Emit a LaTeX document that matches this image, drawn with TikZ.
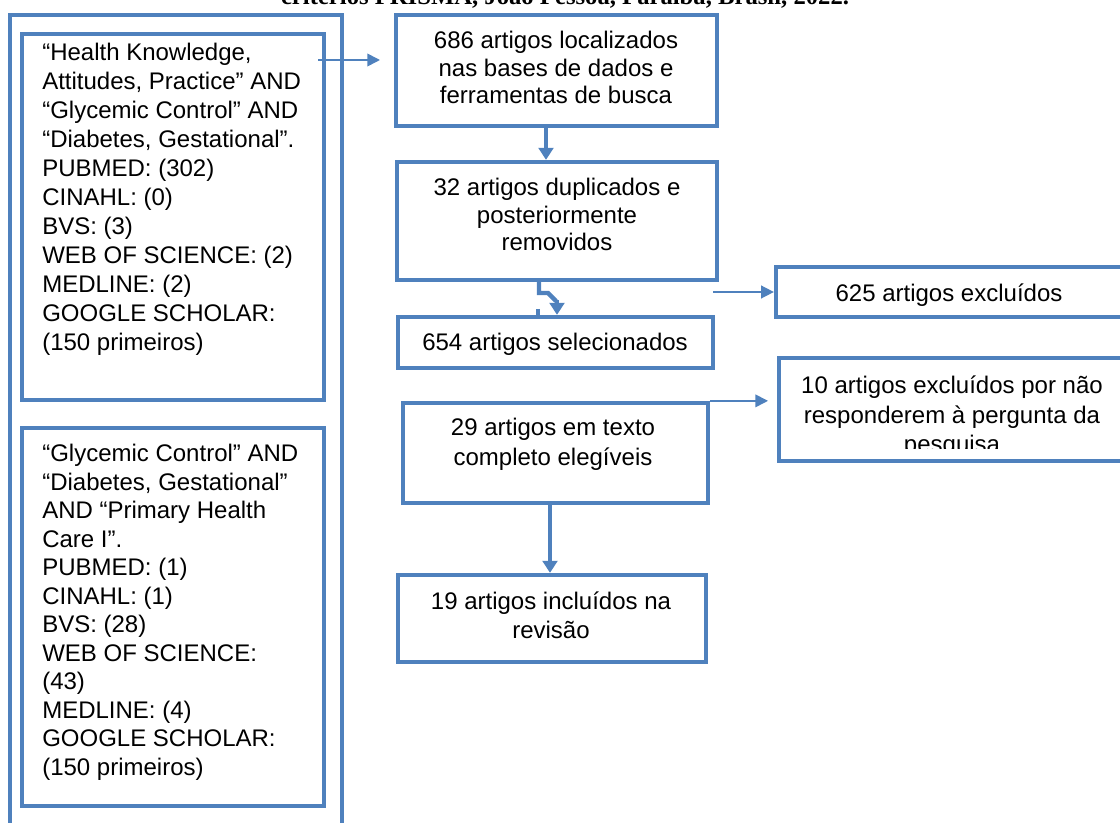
\documentclass[tikz,border=0pt]{standalone}
\usepackage{fontspec}
\setmainfont{Liberation Sans}
\newfontfamily\capfont{Liberation Serif}
\usetikzlibrary{arrows.meta}
\definecolor{boxblue}{RGB}{79,129,189}

\begin{document}
\begin{tikzpicture}[x=0.75pt, y=-0.75pt,
        box/.style={draw=boxblue, line width=3.2pt, inner sep=0pt},
        sz/.style 2 args={minimum width=#1*0.75pt, minimum height=#2*0.75pt},
        txt/.style={font=\fontsize{18}{#1}\selectfont, align=center, inner sep=0pt, anchor=north},
        lst/.style={font=\fontsize{18}{#1}\selectfont, align=left, inner sep=0pt, anchor=north west},
        fino/.style={draw=boxblue, line width=1.2pt, -{Triangle[width=9.5pt,length=9.5pt]}},
        grosso/.style={draw=boxblue, line width=3.2pt, -{Triangle[width=11pt,length=9pt]}},
        liso/.style={draw=boxblue, line width=3.2pt, line join=miter}]
    \useasboundingbox (0,0) rectangle (1120,823);
    \clip (0,0) rectangle (1120,823);

    \node[font=\capfont\bfseries\fontsize{18.5}{20}\selectfont, anchor=base] (cap) at (565,5) {critérios PRISMA, João Pessoa, Paraíba, Brasil, 2022.};

    \node[box, sz={332}{830}] (busca) at (176,430) {};
    \node[box, sz={302}{366}] (buscaA) at (173,217) {};
    \node[box, sz={302}{378}] (buscaB) at (173,617) {};
    \node[box, sz={321}{111}] (loc) at (556.5,70.5) {};
    \node[box, sz={320}{118}] (dup) at (557,221) {};
    \node[box, sz={315}{51}] (sel) at (555.5,342.5) {};
    \node[box, sz={305}{100}] (elig) at (555.5,453) {};
    \node[box, sz={308}{87}] (incl) at (552,618.5) {};
    \node[box, sz={364}{50}] (excl) at (958,292) {};
    \node[box, sz={361}{103}] (naoresp) at (959.5,409.5) {};

    \node[lst=21.75pt] (tbuscaA) at (42,43) {“Health Knowledge,\\Attitudes, Practice” AND\\“Glycemic Control” AND\\“Diabetes, Gestational”.\\PUBMED: (302)\\CINAHL: (0)\\BVS: (3)\\WEB OF SCIENCE: (2)\\MEDLINE: (2)\\GOOGLE SCHOLAR:\\(150 primeiros)};
    \node[lst=21.4pt] (tbuscaB) at (42,444) {“Glycemic Control” AND\\“Diabetes, Gestational”\\AND “Primary Health\\Care I”.\\PUBMED: (1)\\CINAHL: (1)\\BVS: (28)\\WEB OF SCIENCE:\\(43)\\MEDLINE: (4)\\GOOGLE SCHOLAR:\\(150 primeiros)};

    \node[txt=20.6pt] (tloc) at (556,31) {686 artigos localizados\\nas bases de dados e\\ferramentas de busca};
    \node[txt=20.6pt] (tdup) at (557,178) {32 artigos duplicados e\\posteriormente\\removidos};
    \node[txt=20.6pt] (tsel) at (555,333) {654 artigos selecionados};
    \node[txt=22.5pt] (telig) at (553,418) {29 artigos em texto\\completo elegíveis};
    \node[txt=21.75pt] (tincl) at (551,592) {19 artigos incluídos na\\revisão};
    \node[txt=20.6pt] (texcl) at (949,284) {625 artigos excluídos};
    \begin{scope}
        \clip (779,358) rectangle (1140,448);
        \node[txt=22pt] (tnaoresp) at (952,376) {10 artigos excluídos por não\\responderem à pergunta da\\pesquisa};
    \end{scope}

    \coordinate (pA) at (318,60);
    \coordinate (pL) at (380,60);
    \draw[fino] (pA) -- (pL);
    \coordinate (xa) at (546,0);
    \draw[grosso] (loc.south -| xa) -- (dup.north -| xa);
    \coordinate (za) at (539,0);
    \coordinate (zb) at (557,0);
    \coordinate (zc) at (538,0);
    \draw[liso] (dup.south -| za) -- (539,293) -- (548,293) -- (556,301);
    \draw[grosso] (557,300) -- (sel.north -| zb);
    \draw[liso] (538,309) -- (sel.north -| zc);
    \coordinate (pE) at (713,292);
    \draw[fino] (pE) -- (excl.west);
    \coordinate (pX) at (768,0);
    \draw[fino] (elig.north east) -- (elig.north east -| pX);
    \coordinate (xc) at (550,0);
    \draw[grosso] (elig.south -| xc) -- (incl.north -| xc);
\end{tikzpicture}
\end{document}
